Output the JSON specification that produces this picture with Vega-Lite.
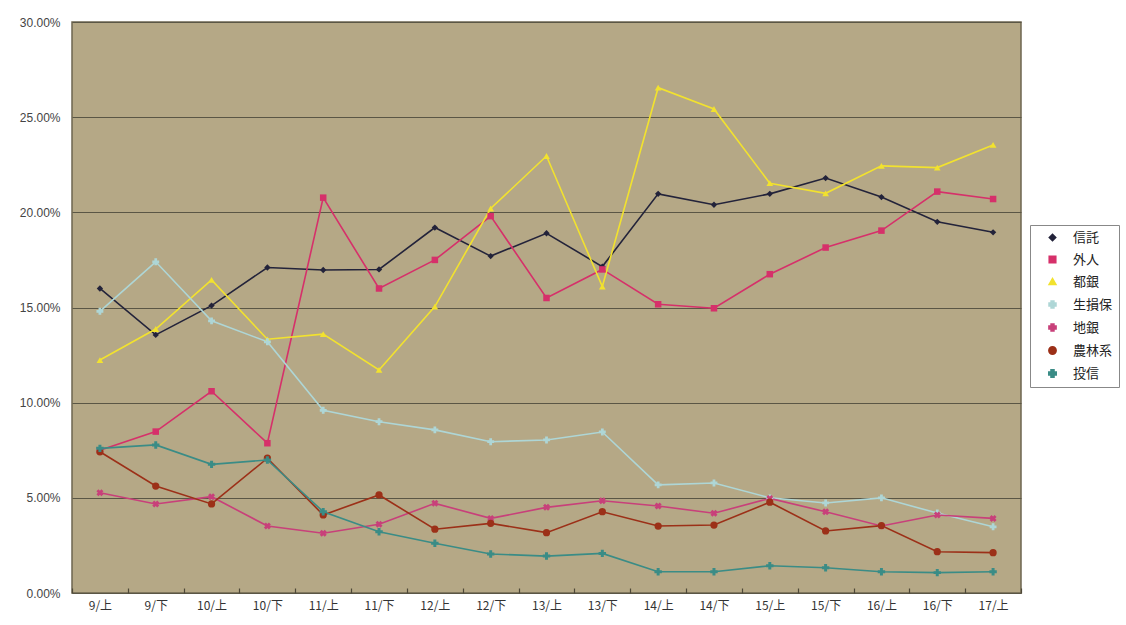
{
  "$schema": "https://vega.github.io/schema/vega-lite/v6.json",
  "width": 949,
  "height": 571,
  "autosize": "none",
  "padding": {"left": 72, "top": 22, "right": 105, "bottom": 32},
  "background": "white",
  "config": {
    "view": {"fill": "#b5a886", "stroke": "#6e6650", "strokeWidth": 1.5},
    "font": "Liberation Sans"
  },
  "data": {
    "values": [
      {"t": "9/上", "信託": 0.160, "外人": 0.075, "都銀": 0.1224, "生損保": 0.148, "地銀": 0.0527, "農林系": 0.0742, "投信": 0.076},
      {"t": "9/下", "信託": 0.1356, "外人": 0.0848, "都銀": 0.1387, "生損保": 0.174, "地銀": 0.0468, "農林系": 0.0562, "投信": 0.0778},
      {"t": "10/上", "信託": 0.151, "外人": 0.106, "都銀": 0.1645, "生損保": 0.143, "地銀": 0.0506, "農林系": 0.0468, "投信": 0.0676},
      {"t": "10/下", "信託": 0.171, "外人": 0.0787, "都銀": 0.1333, "生損保": 0.132, "地銀": 0.0352, "農林系": 0.0708, "投信": 0.0699},
      {"t": "11/上", "信託": 0.1697, "外人": 0.2077, "都銀": 0.136, "生損保": 0.096, "地銀": 0.0314, "農林系": 0.041, "投信": 0.0427},
      {"t": "11/下", "信託": 0.170, "外人": 0.160, "都銀": 0.1172, "生損保": 0.090, "地銀": 0.0361, "農林系": 0.0515, "投信": 0.0322},
      {"t": "12/上", "信託": 0.192, "外人": 0.175, "都銀": 0.1505, "生損保": 0.0857, "地銀": 0.0471, "農林系": 0.0335, "投信": 0.0261},
      {"t": "12/下", "信託": 0.177, "外人": 0.198, "都銀": 0.202, "生損保": 0.0795, "地銀": 0.0392, "農林系": 0.0366, "投信": 0.0205},
      {"t": "13/上", "信託": 0.189, "外人": 0.155, "都銀": 0.2296, "生損保": 0.0804, "地銀": 0.045, "農林系": 0.0317, "投信": 0.0194},
      {"t": "13/下", "信託": 0.1715, "外人": 0.170, "都銀": 0.161, "生損保": 0.0846, "地銀": 0.0485, "農林系": 0.0427, "投信": 0.0208},
      {"t": "14/上", "信託": 0.2097, "外人": 0.1517, "都銀": 0.2655, "生損保": 0.0568, "地銀": 0.0457, "農林系": 0.0352, "投信": 0.0112},
      {"t": "14/下", "信託": 0.204, "外人": 0.1496, "都銀": 0.2543, "生損保": 0.0578, "地銀": 0.0419, "農林系": 0.0357, "投信": 0.0112},
      {"t": "15/上", "信託": 0.2097, "外人": 0.1675, "都銀": 0.2153, "生損保": 0.050, "地銀": 0.0497, "農林系": 0.0477, "投信": 0.0143},
      {"t": "15/下", "信託": 0.218, "外人": 0.1815, "都銀": 0.210, "生損保": 0.0473, "地銀": 0.0427, "農林系": 0.0326, "投信": 0.0133},
      {"t": "16/上", "信託": 0.208, "外人": 0.1904, "都銀": 0.2244, "生損保": 0.050, "地銀": 0.0352, "農林系": 0.0354, "投信": 0.0112},
      {"t": "16/下", "信託": 0.195, "外人": 0.2109, "都銀": 0.2235, "生損保": 0.042, "地銀": 0.041, "農林系": 0.0217, "投信": 0.0107},
      {"t": "17/上", "信託": 0.1895, "外人": 0.207, "都銀": 0.2354, "生損保": 0.0348, "地銀": 0.0392, "農林系": 0.0212, "投信": 0.0112}
    ]
  },
  "transform": [
    {"fold": ["信託", "外人", "都銀", "生損保", "地銀", "農林系", "投信"], "as": ["s", "v"]}
  ],
  "encoding": {
    "x": {
      "field": "t", "type": "ordinal", "sort": null,
      "scale": {"type": "band", "paddingInner": 0, "paddingOuter": 0},
      "axis": {"title": null, "labelAngle": 0, "labelFont": "Noto Sans CJK JP", "labelFontSize": 12, "labelColor": "#333", "tickBand": "extent", "ticks": true, "tickSize": -5, "tickColor": "#4e4838", "tickWidth": 1.2, "labelPadding": 12, "domain": false, "grid": false, "zindex": 1}
    },
    "y": {
      "field": "v", "type": "quantitative",
      "scale": {"domain": [0, 0.3], "nice": false},
      "axis": {"title": null, "values": [0, 0.05, 0.1, 0.15, 0.2, 0.25, 0.3], "format": ".2%", "labelFontSize": 12, "labelColor": "#444", "ticks": false, "domain": false, "labelPadding": 12, "grid": true, "gridColor": "#5a5645", "gridWidth": 1.2, "gridOpacity": 1}
    },
    "color": {
      "field": "s", "type": "nominal",
      "scale": {
        "domain": ["信託", "外人", "都銀", "生損保", "地銀", "農林系", "投信"],
        "range": ["#23233a", "#d6306a", "#f2e22e", "#aed6d6", "#c8407a", "#9c3018", "#3a8c86"]
      },
      "legend": {
        "title": null, "orient": "none", "legendX": 958, "legendY": 203,
        "fillColor": "white", "strokeColor": "#888", "padding": 6,
        "labelFont": "Noto Sans CJK JP", "labelFontSize": 13, "labelColor": "#222",
        "symbolSize": 50, "rowPadding": 8, "symbolOffset": 10, "labelOffset": 14
      }
    }
  },
  "layer": [
    {
      "mark": {"type": "line"},
      "encoding": {
        "strokeWidth": {
          "field": "s", "type": "nominal",
          "scale": {"domain": ["信託", "外人", "都銀", "生損保", "地銀", "農林系", "投信"], "range": [1.6, 1.6, 2.6, 3, 1.6, 2, 1.6]},
          "legend": null
        }
      }
    },
    {
      "mark": {"type": "point", "filled": true, "opacity": 1},
      "encoding": {
        "shape": {
          "field": "s", "type": "nominal",
          "scale": {"domain": ["信託", "外人", "都銀", "生損保", "地銀", "農林系", "投信"], "range": ["diamond", "square", "triangle-up", "cross", "cross", "circle", "cross"]},
          "legend": {"title": null}
        },
        "size": {
          "field": "s", "type": "nominal",
          "scale": {"domain": ["信託", "外人", "都銀", "生損保", "地銀", "農林系", "投信"], "range": [40, 55, 55, 20, 55, 60, 25]},
          "legend": null
        },
        "angle": {"condition": {"test": "datum.s === '地銀'", "value": 45}, "value": 0}
      }
    }
  ]
}
